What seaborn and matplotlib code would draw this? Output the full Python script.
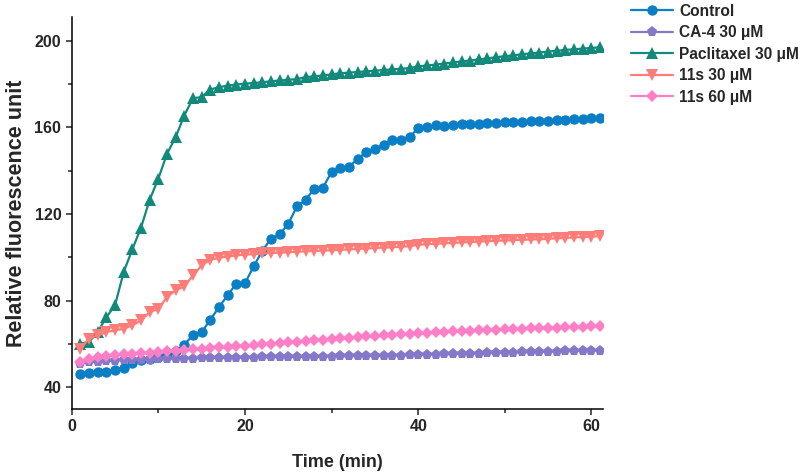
import numpy as np
import pandas as pd
import matplotlib
matplotlib.use("Agg")
import matplotlib.pyplot as plt
import seaborn as sns
from matplotlib.ticker import MultipleLocator

# time points (min)
time = list(range(1, 62))

control = [46.2, 46.6, 47.0, 47.3, 47.8, 49.0, 51.2, 52.4, 53.3, 54.2,
           55.3, 56.8, 59.6, 64.3, 65.4, 71.2, 77.0, 82.5, 87.9, 88.0,
           95.8, 103.0, 108.6, 110.6, 115.5, 123.5, 126.5, 131.7, 132.2, 139.4,
           141.4, 141.7, 145.5, 148.6, 150.1, 152.1, 154.0, 154.2, 155.5, 159.7,
           160.4, 160.9, 160.6, 161.3, 161.5, 161.6, 161.8, 162.0, 162.1, 162.3,
           162.5, 162.6, 162.8, 163.0, 163.2, 163.4, 163.6, 163.8, 164.0, 164.2,
           164.3]
ca4_30 = [51.0, 51.5, 51.9, 52.1, 52.3, 52.5, 52.6, 52.7, 52.8, 52.9,
          53.0, 53.1, 53.2, 53.3, 53.4, 53.5, 53.5, 53.6, 53.6, 53.7,
          53.7, 53.8, 53.8, 53.9, 53.9, 54.0, 54.0, 54.1, 54.1, 54.2,
          54.3, 54.3, 54.4, 54.5, 54.5, 54.6, 54.7, 54.7, 54.8, 54.9,
          55.0, 55.1, 55.2, 55.3, 55.4, 55.5, 55.6, 55.7, 55.8, 55.9,
          56.0, 56.1, 56.2, 56.3, 56.4, 56.5, 56.6, 56.7, 56.8, 56.9,
          57.0]
paclitaxel_30 = [60.2, 60.9, 65.5, 72.4, 77.8, 93.2, 103.7, 113.7, 126.6, 136.3,
                 147.8, 155.5, 165.5, 173.5, 174.0, 177.5, 178.6, 179.3, 179.8, 180.2,
                 180.5, 180.9, 181.3, 181.7, 182.0, 182.3, 183.2, 183.6, 184.0, 184.5,
                 185.0, 185.3, 185.6, 185.9, 186.2, 186.5, 186.8, 187.1, 187.4, 188.2,
                 188.6, 189.0, 189.5, 190.0, 190.5, 190.9, 191.4, 191.9, 192.4, 192.9,
                 193.3, 193.8, 194.2, 194.6, 195.0, 195.4, 195.8, 196.1, 196.4, 196.7,
                 197.0]
s11_30 = [57.9, 62.5, 64.0, 65.5, 66.3, 67.1, 68.6, 70.9, 74.7, 76.3,
          81.7, 84.8, 86.6, 91.7, 96.3, 98.9, 99.8, 100.4, 100.9, 101.3,
          101.5, 101.8, 102.0, 102.2, 102.4, 102.6, 102.8, 103.0, 103.1, 103.3,
          103.5, 103.7, 103.9, 104.1, 104.3, 104.5, 104.7, 104.9, 105.2, 105.8,
          106.1, 106.3, 106.5, 106.7, 106.9, 107.1, 107.3, 107.5, 107.7, 107.8,
          108.0, 108.1, 108.3, 108.4, 108.6, 108.8, 109.0, 109.2, 109.4, 109.6,
          109.8]
s11_60 = [51.7, 53.0, 53.8, 54.4, 54.8, 55.2, 55.5, 55.7, 56.0, 56.3,
          56.6, 56.9, 57.2, 57.5, 57.9, 58.2, 58.5, 58.7, 59.0, 59.3,
          59.6, 59.9, 60.2, 60.5, 60.8, 61.1, 61.4, 61.7, 62.0, 62.3,
          62.6, 62.9, 63.2, 63.5, 63.7, 64.0, 64.2, 64.5, 64.7, 65.0,
          65.2, 65.4, 65.6, 65.8, 66.0, 66.2, 66.4, 66.5, 66.7, 66.8,
          67.0, 67.1, 67.3, 67.4, 67.5, 67.6, 67.8, 67.9, 68.0, 68.1,
          68.2]

labels = ["Control", "CA-4 30 \u03bcM", "Paclitaxel 30 \u03bcM", "11s 30 \u03bcM", "11s 60 \u03bcM"]
series = [control, ca4_30, paclitaxel_30, s11_30, s11_60]
colors = ["#0b7fc6", "#8478c8", "#12897b", "#ff7c78", "#ff7fc6"]
markers = ["o", "p", "^", "v", "D"]
sizes = [7.5, 8, 8, 8, 6.5]

df = pd.concat([pd.DataFrame({"time": time, "value": v, "group": lab})
                for lab, v in zip(labels, series)], ignore_index=True)

sns.set_style("ticks")
plt.rcParams["font.family"] = ["Liberation Sans", "DejaVu Sans"]
plt.rcParams["font.weight"] = "bold"

fig = plt.figure(figsize=(8.09, 4.73), dpi=100)
ax = fig.add_axes([0.0886, 0.1353, 0.6564, 0.8288])

for lab, col, mk, ms in zip(labels, colors, markers, sizes):
    sns.lineplot(data=df[df["group"] == lab], x="time", y="value", color=col,
                 marker=mk, markersize=ms, markeredgewidth=0, linewidth=1.6,
                 label=lab, ax=ax)

ax.set_xlim(0, 61.3)
ax.set_ylim(30, 211)
ax.xaxis.set_major_locator(MultipleLocator(20))
ax.xaxis.set_minor_locator(MultipleLocator(10))
ax.yaxis.set_major_locator(MultipleLocator(40))
ax.yaxis.set_minor_locator(MultipleLocator(20))
ax.tick_params(which="major", direction="out", length=4, width=1.1, labelsize=11.5)
ax.tick_params(which="minor", direction="out", length=3, width=1.1)
for lab in ax.get_xticklabels() + ax.get_yticklabels():
    lab.set_fontweight("bold")
sns.despine(ax=ax)
for sp in ["left", "bottom"]:
    ax.spines[sp].set_linewidth(1.1)
    ax.spines[sp].set_color("black")

ax.set_xlabel("Time (min)", fontsize=13, fontweight="bold", labelpad=14)
ax.set_ylabel("Relative fluorescence unit", fontsize=15.5, fontweight="bold", labelpad=5)

sns.move_legend(ax, "upper left", bbox_to_anchor=(1.027, 1.07), frameon=False,
                title=None, handlelength=2.7, handletextpad=0.4, labelspacing=0.42,
                prop={"weight": "bold", "size": 11.2})

fig.savefig("out.png", dpi=100)
